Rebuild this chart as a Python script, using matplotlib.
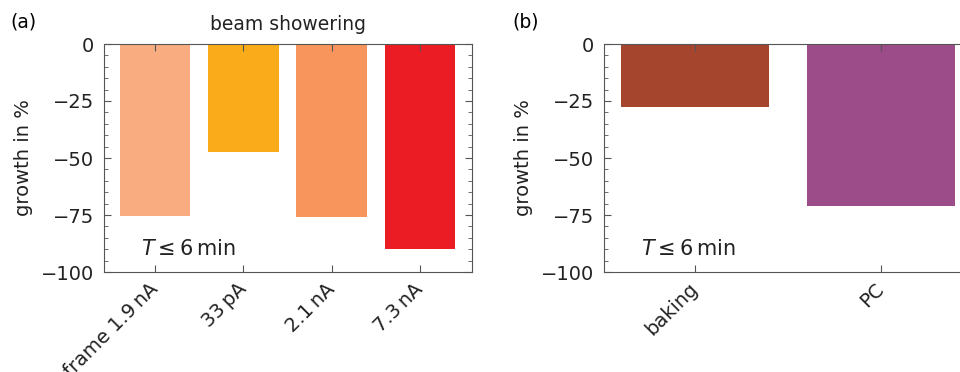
import numpy as np
import matplotlib.pyplot as plt
from matplotlib.ticker import MultipleLocator

plt.rcParams['font.family'] = ['DejaVu Sans']
plt.rcParams['mathtext.fontset'] = 'dejavusans'

# データ
labels_a = ['frame 1.9\u2009nA', '33\u2009pA', '2.1\u2009nA', '7.3\u2009nA']
growth_a = [-75.5, -47.5, -76, -90]
colors_a = ['#F8AC80', '#FAAB1A', '#F7955C', '#EC1C24']

labels_b = ['baking', 'PC']
growth_b = [-27.5, -71]
colors_b = ['#A5452D', '#9C4C88']

fig = plt.figure(figsize=(9.6, 3.72), dpi=100)
ax1 = fig.add_axes([104/960, 1 - 272/372, 368/960, 228/372])
ax2 = fig.add_axes([604/960, 1 - 272/372, 368/960, 228/372])

spine_c = '#555555'
for ax, labels, vals, cols in [(ax1, labels_a, growth_a, colors_a),
                               (ax2, labels_b, growth_b, colors_b)]:
    x = np.arange(len(labels))
    ax.bar(x, vals, width=0.8, color=cols)
    ax.set_ylim(-100, 0)
    ax.set_yticks([0, -25, -50, -75, -100])
    ax.yaxis.set_minor_locator(MultipleLocator(5))
    ax.set_xticks(x)
    ax.set_xticklabels(labels, rotation=45, ha='right', va='center',
                       rotation_mode='anchor')
    ax.tick_params(which='both', direction='in', top=True, right=True,
                   color=spine_c, labelcolor='#222222', labelsize=14, pad=7)
    ax.tick_params(axis='x', labelsize=14, pad=10)
    ax.tick_params(which='major', length=5)
    ax.tick_params(which='minor', length=3)
    for s in ax.spines.values():
        s.set_color(spine_c)
    ax.set_ylabel('growth in %', fontsize=14, color='#222222', labelpad=6)
    ax.text(0.1, 0.1, r'$T \leq 6\,\mathrm{min}$', transform=ax.transAxes,
            fontsize=15, color='#222222', va='center')

ax1.set_xlim(-0.58, 3.59)
ax2.set_xlim(-0.49, 1.49)

ax1.set_title('beam showering', fontsize=13.5, color='#222222', pad=10)
fig.text(10/960, 1 - 22/372, '(a)', fontsize=13.5, va='center')
fig.text(512/960, 1 - 22/372, '(b)', fontsize=13.5, va='center')

fig.savefig('out.png', dpi=100)
